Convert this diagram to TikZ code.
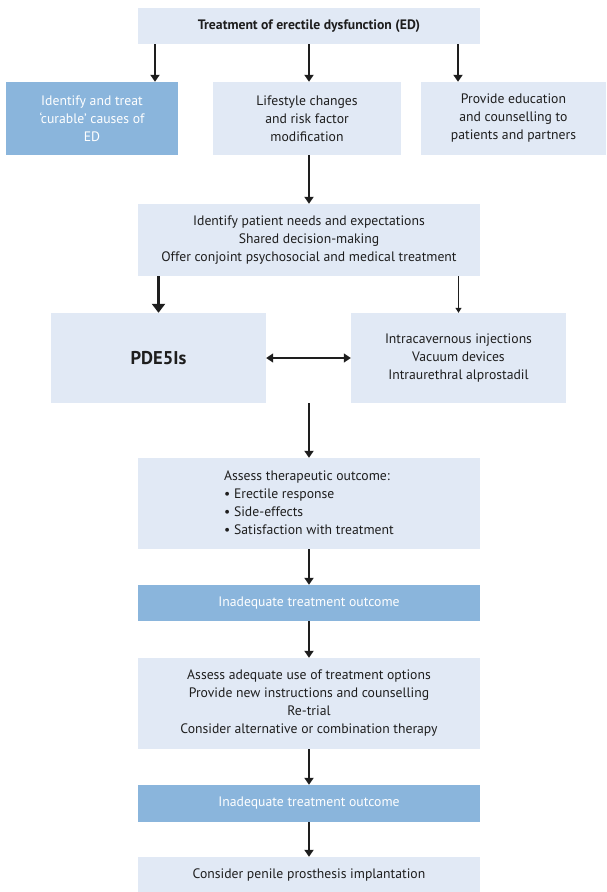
\documentclass[tikz,border=0pt]{standalone}
\usepackage{fontspec}
\setmainfont{PT Sans}
\usetikzlibrary{arrows.meta}
\definecolor{boxpale}{HTML}{E1E9F5}
\definecolor{boxdark}{HTML}{8AB5DC}
\definecolor{inktext}{HTML}{1E1E1E}

\begin{document}
\begin{tikzpicture}[x=1pt,y=-1pt,inktext,node font=\fontsize{13.7}{18}\selectfont,
	pale/.style={fill=boxpale,inner sep=0pt,align=center},
	dark/.style={fill=boxdark,inner sep=0pt,align=center,text=white},
	arr/.style={line width=1.8pt,-{Triangle[width=9pt,length=7pt]}},
	thinarr/.style={line width=1pt,-{Triangle[width=6pt,length=5pt]}},
	fatarr/.style={line width=3.4pt,-{Triangle[width=13pt,length=9pt]}}]
			\useasboundingbox (0,0) rectangle (606,892);
			
			\draw (309,26) node[pale,minimum width=342pt,minimum height=36pt] (top) {\bfseries Treatment of erectile dysfunction (ED)};
			\draw (92,118.5) node[dark,minimum width=172pt,minimum height=73pt] (cure) {Identify and treat\\`curable' causes of\\ED};
			\draw (307,118.5) node[pale,minimum width=188pt,minimum height=73pt] (life) {Lifestyle changes\\and risk factor\\modification};
			\draw (513.5,118.5) node[pale,minimum width=185pt,minimum height=73pt] (educ) {Provide education\\and counselling to\\patients and partners};
			\draw (309,240) node[pale,minimum width=342pt,minimum height=72pt] (needs) {Identify patient needs and expectations\\Shared decision-making\\Offer conjoint psychosocial and medical treatment};
			\draw (158.5,358) node[pale,minimum width=215pt,minimum height=90pt] (pde) {\fontsize{18.5}{20}\selectfont\bfseries PDE5Is};
			\draw (458.5,358) node[pale,minimum width=215pt,minimum height=90pt] (other) {Intracavernous injections\\Vacuum devices\\Intraurethral alprostadil};
			\draw (309,503.5) node[pale,minimum width=342pt,minimum height=91pt] (assess) {\begin{tabular}{@{}l@{}}Assess therapeutic outcome:\\\textbullet\ Erectile response\\\textbullet\ Side-effects\\\textbullet\ Satisfaction with treatment\end{tabular}};
			\draw (309,603) node[dark,minimum width=342pt,minimum height=36pt] (inad1) {Inadequate treatment outcome};
			\draw (309,703.5) node[pale,minimum width=342pt,minimum height=91pt] (adequ) {Assess adequate use of treatment options\\Provide new instructions and counselling\\Re-trial\\Consider alternative or combination therapy};
			\draw (309,803.5) node[dark,minimum width=342pt,minimum height=37pt] (inad2) {Inadequate treatment outcome};
			\draw (309,874.5) node[pale,minimum width=342pt,minimum height=35pt] (prost) {Consider penile prosthesis implantation};
			
			\draw[arr] (top.south -| 155,0) -- (cure.north -| 155,0);
			\draw[arr] (top.south) -- (top.south |- life.north);
			\draw[arr] (top.south -| 458,0) -- (educ.north -| 458,0);
			\draw[arr] (life.south -| top.south) -- (needs.north);
			
			\draw[fatarr] (needs.south -| pde.north) -- (pde.north);
			\draw[thinarr] (needs.south -| other.north) -- (other.north);
			\draw[arr,{Triangle[width=9pt,length=7pt]}-{Triangle[width=9pt,length=7pt]},line width=1.4pt] (pde.east) -- (other.west);
			\draw[arr] (pde.south -| needs.south) -- (assess.north);
			
			\draw[arr] (assess.south) -- (inad1.north);
			\draw[arr] (inad1.south) -- (adequ.north);
			\draw[arr] (adequ.south) -- (inad2.north);
			\draw[arr] (inad2.south) -- (prost.north);
\end{tikzpicture}
\end{document}
